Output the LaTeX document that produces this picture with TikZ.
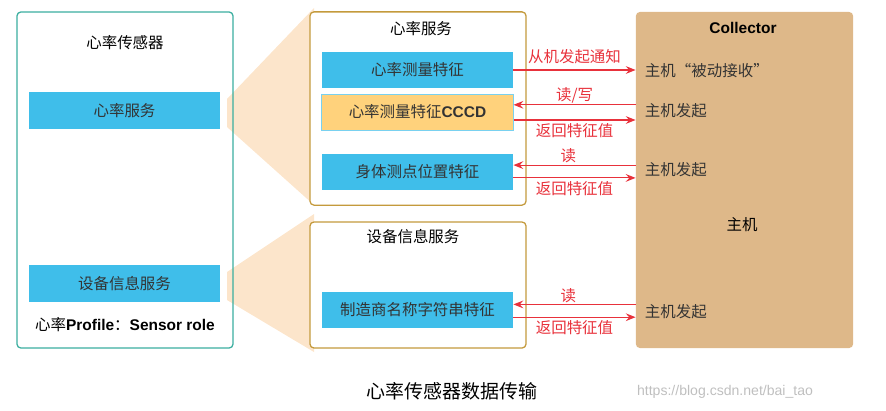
\documentclass[tikz,border=0pt]{standalone}
\usepackage{fontspec}
\setmainfont{Noto Sans CJK SC}
\newfontfamily\arialfont{Liberation Sans}
\usetikzlibrary{arrows.meta}
\definecolor{hrblue}{HTML}{3FBEEA}
\definecolor{cccdyellow}{HTML}{FFD27C}
\definecolor{fanpeach}{HTML}{FCE5CB}
\definecolor{hostbrown}{HTML}{DEB889}
\definecolor{tealline}{HTML}{3AAE9F}
\definecolor{goldline}{HTML}{C49A3C}
\definecolor{msgred}{HTML}{E8313B}
\begin{document}
\begin{tikzpicture}[x=0.025cm, y=-0.025cm, font=\fontsize{11pt}{13pt}\selectfont,
      >={Stealth[length=7pt, width=5.5pt, inset=2.5pt]},
      panel/.style={draw, rounded corners=0.1cm, line width=0.9pt, minimum width=5.4cm, inner sep=0pt},
      sensor/.style={panel, draw=tealline, minimum height=8.4cm},
      svc/.style={panel, draw=goldline, fill=white},
      chr/.style={fill=hrblue, text=black!80, minimum width=4.78cm, minimum height=0.9cm, inner sep=0pt},
      cccd/.style={chr, fill=cccdyellow, draw=hrblue!70, line width=0.6pt},
      fan/.style={fill=fanpeach},
      msg/.style={draw=msgred, line width=0.8pt, ->},
      msgback/.style={msg, <-},
      msgtxt/.style={text=msgred, inner sep=1pt},
      hosttxt/.style={anchor=west, text=black!80}]
    \useasboundingbox (0,0) rectangle (886,410);
    % fans behind the service panels
    \fill[fan] (227,99) -- (314,8) -- (314,205) -- (227,127) -- cycle;
    \fill[fan] (227,272) -- (314,214) -- (314,352) -- (227,300) -- cycle;
    % sensor side
    \node[sensor] (sensorbox) at (125,180) {};
    \node (sensortitle) at (125,43) {心率传感器};
    \node[chr, minimum height=0.93cm] (hrsvc) at (124.5,110.5) {心率服务};
    \node[chr, minimum height=0.93cm] (disvc) at (124.5,283.5) {设备信息服务};
    \node (role) at (125,325) {心率{\arialfont\bfseries Profile}：{\arialfont\bfseries Sensor role}};
    % services
    \node[svc, minimum height=4.83cm] (hrsbox) at (418,108.5) {};
    \node (hrstitle) at (421,29) {心率服务};
    \node[chr] (hrm) at (417.5,70) {心率测量特征};
    \node[cccd] (hrmcccd) at (417.5,112) {心率测量特征{\arialfont\bfseries CCCD}};
    \node[chr] (bsl) at (417.5,171.5) {身体测点位置特征};
    \node[svc, minimum height=3.15cm] (disbox) at (418,285) {};
    \node (distitle) at (413,237) {设备信息服务};
    \node[chr] (mfr) at (417.5,310) {制造商名称字符串特征};
    % host side
    \node[fill=hostbrown, rounded corners=0.1cm, minimum width=5.43cm, minimum height=8.4cm] (hostbox) at (744.5,180) {};
    \node (collector) at (743,28) {\arialfont\bfseries Collector};
    \node (host) at (742,225) {主机};
    \node[hosttxt] (hnotify) at (640,71) {主机“被动接收”};
    \node[hosttxt] (hcccd) at (640,111) {主机发起};
    \node[hosttxt] (hbsl) at (640,170) {主机发起};
    \node[hosttxt] (hmfr) at (640,312) {主机发起};
    % messages
    \draw[msg] (hrm.east) -- (hrm.east -| hostbox.west)
      node[msgtxt, above=3pt, midway] (lnotify) {从机发起通知};
    \draw[msgback] ([yshift=0.18cm]hrmcccd.east) -- ([yshift=0.18cm]hrmcccd.east -| hostbox.west)
      node[msgtxt, above, midway] (lcccdrw) {读/写};
    \draw[msg] ([yshift=-0.2cm]hrmcccd.east) -- ([yshift=-0.2cm]hrmcccd.east -| hostbox.west)
      node[msgtxt, below=1pt, midway] (lcccdret) {返回特征值};
    \draw[msgback] ([yshift=0.16cm]bsl.east) -- ([yshift=0.16cm]bsl.east -| hostbox.west)
      node[msgtxt, above, pos=0.45] (lbslrd) {读};
    \draw[msg] ([yshift=-0.16cm]bsl.east) -- ([yshift=-0.16cm]bsl.east -| hostbox.west)
      node[msgtxt, below=1pt, midway] (lbslret) {返回特征值};
    \draw[msgback] ([yshift=0.14cm]mfr.east) -- ([yshift=0.14cm]mfr.east -| hostbox.west)
      node[msgtxt, above, pos=0.45] (lmfrrd) {读};
    \draw[msg] ([yshift=-0.18cm]mfr.east) -- ([yshift=-0.18cm]mfr.east -| hostbox.west)
      node[msgtxt, below=1pt, midway] (lmfrret) {返回特征值};
    % caption
    \node[font=\fontsize{13.5pt}{16pt}\selectfont] (caption) at (452,391) {心率传感器数据传输};
    \node[font=\arialfont\fontsize{10pt}{12pt}\selectfont, text=black!25] (mark) at (725,392) {https://blog.csdn.net/bai\_tao};
  \end{tikzpicture}
\end{document}
